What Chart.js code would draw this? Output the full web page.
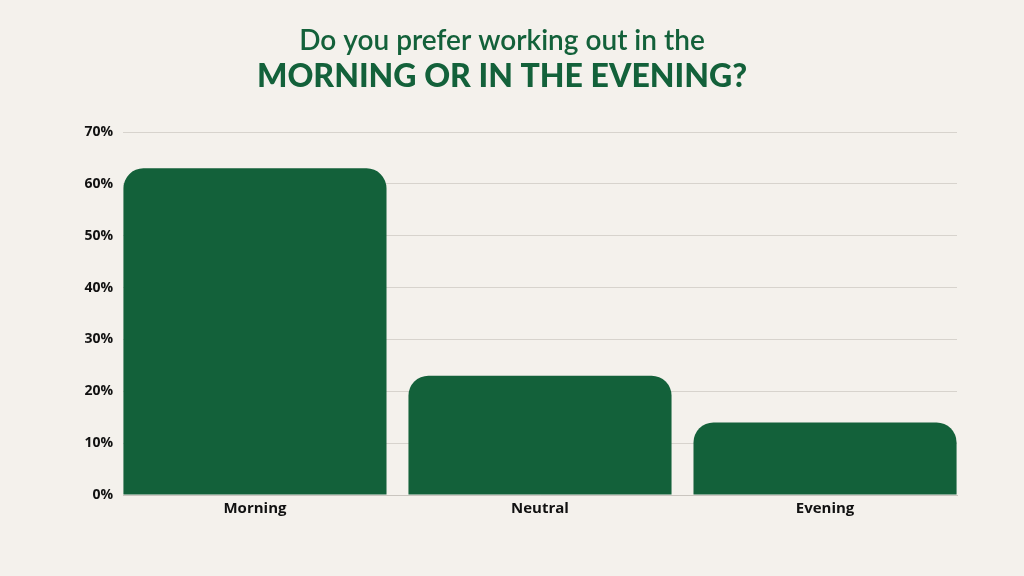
<!DOCTYPE html>
<html>
<head>
<meta charset="utf-8">
<script src="https://cdn.jsdelivr.net/npm/chart.js@4.4.1/dist/chart.umd.min.js"></script>
<style>
  html, body { margin: 0; padding: 0; background: #f4f1ec; }
  canvas { display: block; }
</style>
</head>
<body>
<canvas id="workoutChart" width="1024" height="576"></canvas>
<script>
// Datos del gráfico
const categories = ['Morning', 'Neutral', 'Evening'];
const shares = [63, 23, 14];
const yTicks = [0, 10, 20, 30, 40, 50, 60, 70];

const green = '#13613a';

document.addEventListener('DOMContentLoaded', function() {
    const ctx = document.getElementById('workoutChart').getContext('2d');
    new Chart(ctx, {
        type: 'bar',
        data: {
            datasets: [{
                data: categories.map((c, i) => ({ x: i, y: shares[i] })),
                backgroundColor: green,
                borderWidth: 0,
                borderRadius: { topLeft: 20, topRight: 20, bottomLeft: 0, bottomRight: 0 },
                borderSkipped: 'bottom',
                categoryPercentage: 1,
                barPercentage: 0.923
            }]
        },
        options: {
            responsive: false,
            animation: false,
            layout: {
                padding: { left: 47, right: 67, top: 14, bottom: 53 }
            },
            plugins: {
                legend: { display: false },
                tooltip: { enabled: false },
                title: {
                    display: true,
                    text: 'Do you prefer working out in the',
                    color: green,
                    font: { family: 'Lato', size: 28, weight: '600' },
                    padding: { top: 10, bottom: 0 }
                },
                subtitle: {
                    display: true,
                    text: 'MORNING OR IN THE EVENING?',
                    color: green,
                    font: { family: 'Lato', size: 32, weight: '900' },
                    padding: { top: 0, bottom: 36 }
                }
            },
            scales: {
                y: {
                    min: 0,
                    max: 70,
                    afterBuildTicks: function(axis) {
                        axis.ticks = yTicks.map(v => ({ value: v }));
                    },
                    afterFit: function(axis) {
                        axis.width = 76;
                    },
                    ticks: {
                        callback: v => v + '%',
                        color: '#111111',
                        padding: 10,
                        font: { family: 'Open Sans', size: 14, weight: 'bold' }
                    },
                    grid: { color: '#d7d3cd', drawTicks: false, lineWidth: 1 },
                    border: { display: false }
                },
                x: {
                    type: 'linear',
                    offset: false,
                    min: -0.463,
                    max: 2.463,
                    afterBuildTicks: function(axis) {
                        axis.ticks = categories.map((c, i) => ({ value: i }));
                    },
                    ticks: {
                        callback: v => categories[v],
                        color: '#111111',
                        padding: 5,
                        autoSkip: false,
                        maxRotation: 0,
                        font: { family: 'Open Sans', size: 15, weight: 'bold' }
                    },
                    grid: { display: false, drawTicks: false, offset: false },
                    border: { display: true, color: '#c9c5bf', width: 1 }
                }
            }
        }
    });
});
</script>
</body>
</html>
